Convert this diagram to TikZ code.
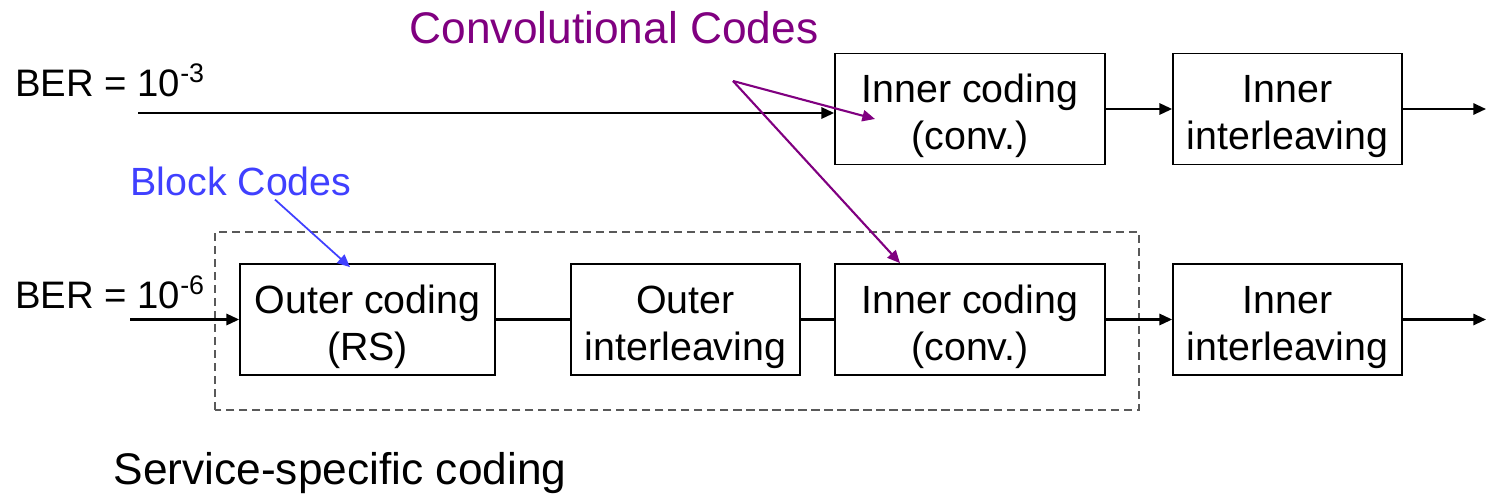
\documentclass[tikz,border=0pt]{standalone}
\usepackage{fontspec}
\setmainfont{Liberation Sans}
\usetikzlibrary{arrows.meta,positioning}
\definecolor{convpurple}{RGB}{128,0,128}
\definecolor{blockblue}{RGB}{64,64,255}

\begin{document}
\begin{tikzpicture}[
    >={Triangle[length=3.6pt,width=3.2pt]},
    every node/.style={font=\fontsize{11.2}{13.3}\selectfont},
    block/.style={draw, line width=0.5pt, minimum height=1.11cm, align=center, inner sep=0pt,
        text height=25.5pt},
    flow/.style={line width=0.6pt},
    frame/.style={draw=black!65, line width=0.45pt, dash pattern=on 2.3pt off 1.4pt},
    convarrow/.style={->, convpurple, line width=0.6pt},
    blockarrow/.style={->, blockblue, line width=0.5pt},
    label/.style={inner sep=1pt}
]
    \useasboundingbox (0,0) rectangle (14.87,4.96);

    \node[block, minimum width=2.70cm] (ic1) at (9.70,3.87) {Inner coding\\(conv.)};
    \node[block, minimum width=2.29cm] (il1) at (12.875,3.87) {Inner\\interleaving};

    \node[block, minimum width=2.55cm] (oc) at (3.675,1.765) {Outer coding\\(RS)};
    \node[block, minimum width=2.29cm] (ol) at (6.855,1.765) {Outer\\interleaving};
    \node[block, minimum width=2.70cm] (ic2) at (9.70,1.765) {Inner coding\\(conv.)};
    \node[block, minimum width=2.29cm] (il2) at (12.875,1.765) {Inner\\interleaving};

    \draw[frame] (2.15,0.86) rectangle (11.39,2.64);

    \node[label, anchor=base west, font=\fontsize{10.9}{13}\selectfont] (ber3) at (0.11,4.00) {BER = 10\textsuperscript{-3}};
    \node[label, anchor=base west, font=\fontsize{10.9}{13}\selectfont] (ber6) at (0.11,1.88) {BER = 10\textsuperscript{-6}};
    \node[label, anchor=base, convpurple, font=\fontsize{12.6}{15}\selectfont] (convlbl) at (6.14,4.52) {Convolutional Codes};
    \node[label, anchor=base, blockblue] (blocklbl) at (2.41,3.01) {Block Codes};
    \node[label, anchor=base, font=\fontsize{12.6}{15}\selectfont] (svc) at (3.40,0.12) {Service-specific coding};

    \coordinate (in3) at (1.38,3.83);
    \coordinate (out3) at (14.86,3.87);
    \coordinate (in6) at (1.30,1.765);
    \coordinate (out6) at (14.86,1.765);

    \draw[flow, ->] (in3) -- (in3 -| ic1.west);
    \draw[flow, ->] (ic1.east) -- (il1.west);
    \draw[flow, ->] (il1.east) -- (out3);

    \draw[flow, ->] (in6) -- (oc.west);
    \draw[flow] (oc.east) -- (ol.west);
    \draw[flow] (ol.east) -- (ic2.west);
    \draw[flow, ->] (ic2.east) -- (il2.west);
    \draw[flow, ->] (il2.east) -- (out6);

    \coordinate (convsrc) at (7.33,4.15);
    \draw[convarrow] (convsrc) -- ([xshift=-0.95cm, yshift=-0.10cm]ic1.center);
    \draw[convarrow] (convsrc) -- ([xshift=-0.70cm]ic2.north);

    \draw[blockarrow] ([xshift=3.4mm]blocklbl.south) -- ([xshift=-1.75mm, yshift=-0.4mm]oc.north);
\end{tikzpicture}
\end{document}
